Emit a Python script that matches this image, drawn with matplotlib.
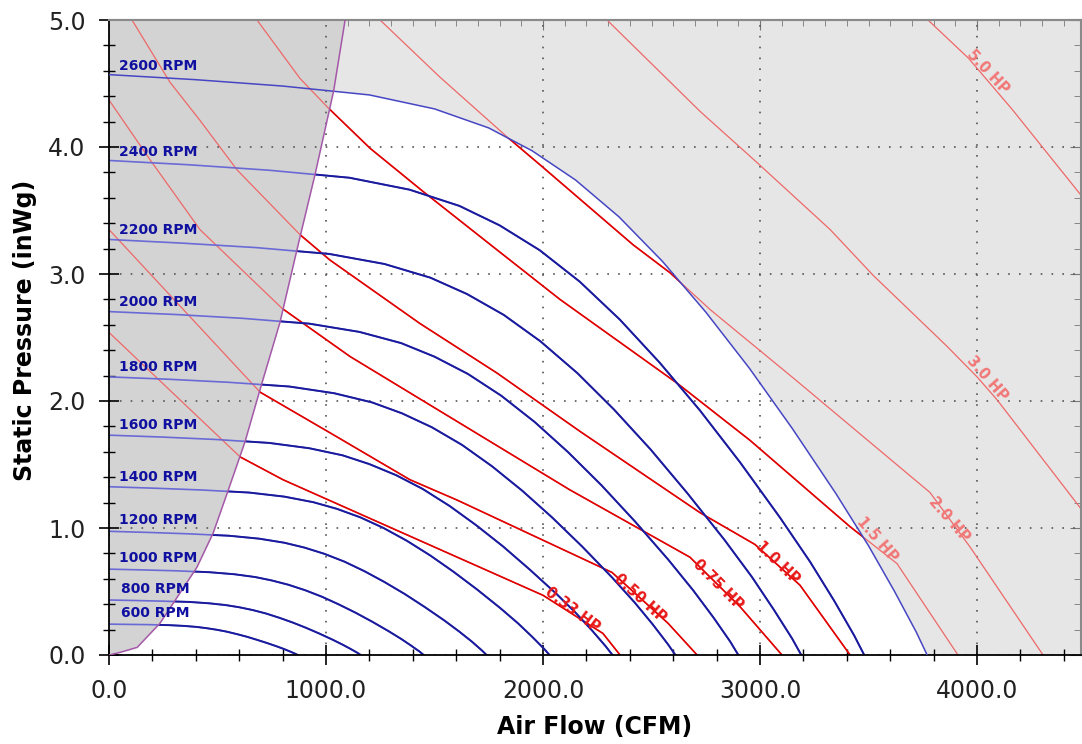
import numpy as np
import matplotlib.pyplot as plt
from matplotlib.patches import Polygon
from matplotlib.ticker import MultipleLocator, FormatStrFormatter, NullFormatter

# fan curves: air flow (CFM) / static pressure (inWg) per speed
fan_rpm = [600, 800, 1000, 1200, 1400, 1600, 1800, 2000, 2200, 2400, 2600]
fan_cfm = [
    [0, 92, 185, 277, 346, 404, 450, 496, 542, 588, 635, 681, 727, 773, 808, 835, 858, 870],
    [0, 123, 246, 369, 462, 538, 600, 662, 723, 785, 846, 908, 969, 1031, 1077, 1114, 1145, 1160],
    [0, 154, 308, 462, 577, 673, 750, 827, 904, 981, 1058, 1135, 1212, 1288, 1346, 1392, 1431, 1450],
    [0, 185, 369, 554, 692, 808, 900, 992, 1085, 1177, 1269, 1362, 1454, 1546, 1615, 1671, 1717, 1740],
    [0, 215, 431, 646, 808, 942, 1050, 1158, 1265, 1373, 1481, 1588, 1696, 1804, 1885, 1949, 2003, 2030],
    [0, 246, 492, 738, 923, 1077, 1200, 1323, 1446, 1569, 1692, 1815, 1938, 2062, 2154, 2228, 2289, 2320],
    [0, 277, 554, 831, 1038, 1212, 1350, 1488, 1627, 1765, 1904, 2042, 2181, 2319, 2423, 2506, 2575, 2610],
    [0, 308, 615, 923, 1154, 1346, 1500, 1654, 1808, 1962, 2115, 2269, 2423, 2577, 2692, 2785, 2862, 2900],
    [0, 338, 677, 1015, 1269, 1481, 1650, 1819, 1988, 2158, 2327, 2496, 2665, 2835, 2962, 3063, 3148, 3190],
    [0, 369, 738, 1108, 1385, 1615, 1800, 1985, 2169, 2354, 2538, 2723, 2908, 3092, 3231, 3342, 3434, 3480],
    [0, 400, 800, 1200, 1500, 1750, 1950, 2150, 2350, 2550, 2750, 2950, 3150, 3350, 3500, 3620, 3720, 3770],
]
fan_inwg = [
    [0.243, 0.241, 0.239, 0.235, 0.229, 0.221, 0.211, 0.199, 0.184, 0.165, 0.144, 0.120, 0.095, 0.068, 0.046, 0.027, 0.010, 0.0],
    [0.433, 0.429, 0.424, 0.418, 0.407, 0.393, 0.376, 0.354, 0.327, 0.293, 0.256, 0.214, 0.169, 0.120, 0.081, 0.047, 0.017, 0.0],
    [0.676, 0.670, 0.663, 0.652, 0.636, 0.614, 0.587, 0.553, 0.510, 0.459, 0.399, 0.334, 0.263, 0.188, 0.127, 0.074, 0.027, 0.0],
    [0.974, 0.965, 0.954, 0.939, 0.916, 0.884, 0.846, 0.797, 0.735, 0.660, 0.575, 0.481, 0.379, 0.271, 0.183, 0.107, 0.038, 0.0],
    [1.325, 1.313, 1.299, 1.279, 1.247, 1.203, 1.151, 1.084, 1.000, 0.899, 0.783, 0.655, 0.516, 0.368, 0.249, 0.145, 0.052, 0.0],
    [1.731, 1.716, 1.697, 1.670, 1.628, 1.572, 1.503, 1.416, 1.307, 1.174, 1.022, 0.856, 0.674, 0.481, 0.326, 0.189, 0.068, 0.0],
    [2.190, 2.171, 2.147, 2.114, 2.061, 1.989, 1.903, 1.793, 1.654, 1.486, 1.294, 1.083, 0.853, 0.609, 0.412, 0.240, 0.086, 0.0],
    [2.704, 2.681, 2.651, 2.609, 2.544, 2.456, 2.349, 2.213, 2.041, 1.834, 1.598, 1.337, 1.053, 0.751, 0.509, 0.296, 0.107, 0.0],
    [3.272, 3.243, 3.208, 3.158, 3.079, 2.971, 2.842, 2.678, 2.470, 2.220, 1.933, 1.618, 1.274, 0.909, 0.616, 0.358, 0.129, 0.0],
    [3.894, 3.860, 3.817, 3.758, 3.664, 3.536, 3.383, 3.187, 2.940, 2.641, 2.301, 1.926, 1.517, 1.082, 0.733, 0.426, 0.153, 0.0],
    [4.57, 4.53, 4.48, 4.41, 4.30, 4.15, 3.97, 3.74, 3.45, 3.10, 2.70, 2.26, 1.78, 1.27, 0.86, 0.50, 0.18, 0.0],
]

# stall (surge) boundary
surge_cfm = [0, 50, 130, 235, 405, 480, 550, 627, 696, 788, 866, 949, 1035, 1088]
surge_inwg = [0, 0.02, 0.06, 0.25, 0.69, 0.96, 1.30, 1.68, 2.09, 2.62, 3.19, 3.78, 4.44, 5.0]

# constant power lines
hp_labels = ['0.33 HP', '0.50 HP', '0.75 HP', '1.0 HP', '1.5 HP', '2.0 HP', '3.0 HP', '5.0 HP']
hp_cfm = [
    [0, 604, 802, 1065, 2000, 2276, 2355],
    [0, 696, 1018, 1387, 1604, 2318, 2576, 2710],
    [0, 189, 419, 797, 1111, 2124, 2677, 2908, 3101],
    [106, 281, 419, 590, 880, 1018, 1433, 1788, 2171, 2724, 2977, 3184, 3415],
    [682, 880, 1009, 1203, 1447, 1788, 2078, 2618, 2954, 3415, 3631, 3912],
    [1249, 1525, 1834, 1986, 2415, 2585, 2770, 3161, 3783, 3968, 4304],
    [2295, 2724, 2991, 3323, 3521, 3862, 4000, 4092, 4484],
    [3774, 3960, 4160, 4484],
]
hp_inwg = [
    [2.54, 1.56, 1.38, 1.18, 0.47, 0.17, 0.0],
    [3.35, 2.07, 1.75, 1.38, 1.22, 0.65, 0.25, 0.0],
    [4.37, 3.90, 3.35, 2.73, 2.35, 1.30, 0.77, 0.38, 0.0],
    [5.0, 4.51, 4.21, 3.82, 3.31, 3.11, 2.61, 2.22, 1.76, 1.12, 0.87, 0.55, 0.0],
    [5.0, 4.54, 4.31, 3.99, 3.65, 3.19, 2.80, 2.14, 1.69, 1.01, 0.72, 0.0],
    [5.0, 4.55, 4.08, 3.86, 3.23, 3.01, 2.72, 2.17, 1.28, 0.85, 0.0],
    [5.0, 4.28, 3.87, 3.35, 2.99, 2.43, 2.19, 2.01, 1.14],
    [5.0, 4.70, 4.30, 3.61],
]

# label placement (data coords) and text angle
rpm_label_xy = [(55, 0.33), (55, 0.52), (45, 0.76), (45, 1.06), (45, 1.40), (45, 1.81),
                (45, 2.27), (45, 2.78), (45, 3.35), (45, 3.96), (45, 4.64)]
hp_label_xy = [(2134, 0.354), (2447, 0.449), (2806, 0.551), (3083, 0.724),
               (3539, 0.906), (3871, 1.071), (4046, 2.181), (4051, 4.591)]
hp_label_rot = [-37, -42, -45, -44, -49, -49, -49, -47]

fig = plt.figure(figsize=(10.82, 7.44), dpi=100)
ax = fig.add_axes([109 / 1082, 89 / 744, 972 / 1082, 635 / 744])
ax.set_xlim(0, 4479)
ax.set_ylim(0, 5)
ax.set_facecolor('#e6e6e6')

# shaded zones: stall region (dark) and operating region (white)
ax.fill(surge_cfm + [0], surge_inwg + [5.0], color='#d3d3d3', lw=0, zorder=0.5)
white_pts = list(zip(surge_cfm[:-1], surge_inwg[:-1]))
white_pts += [(q, p) for q, p in zip(fan_cfm[-1], fan_inwg[-1]) if q > surge_cfm[-2]]
white = Polygon(white_pts, closed=True, facecolor='white', edgecolor='none', zorder=0.6)
ax.add_patch(white)

# power lines, faint outside the operating zone
for q, p in zip(hp_cfm, hp_inwg):
    ax.plot(q, p, color='#ee6868', lw=0.9, zorder=2)
    ln, = ax.plot(q, p, color='#e00000', lw=1.2, zorder=2.1)
    ln.set_clip_path(white)

# fan curves
for q, p in zip(fan_cfm[:-1], fan_inwg[:-1]):
    ax.plot(q, p, color='#6a6ad6', lw=1.2, zorder=2.2)
    ln, = ax.plot(q, p, color='#1a1a9c', lw=1.4, zorder=2.3)
    ln.set_clip_path(white)
ax.plot(fan_cfm[-1], fan_inwg[-1], color='#4646c4', lw=1.1, zorder=3)
ax.plot(surge_cfm, surge_inwg, color='#a458a8', lw=1.1, zorder=3)

for rpm, (x, y) in zip(fan_rpm, rpm_label_xy):
    ax.text(x, y, '{} RPM'.format(rpm), color='#1010a0', fontsize=10, fontweight='bold',
            ha='left', va='center', zorder=4)

for i, (lab, (x, y), rot) in enumerate(zip(hp_labels, hp_label_xy, hp_label_rot)):
    col = '#e81818' if i < 4 else '#f27676'
    ax.text(x, y, lab, color=col, fontsize=10.5, fontweight='bold', rotation=rot,
            rotation_mode='anchor', ha='center', va='center', zorder=4)

# axes styling
ax.xaxis.set_major_locator(MultipleLocator(1000))
ax.xaxis.set_minor_locator(MultipleLocator(200))
ax.yaxis.set_major_locator(MultipleLocator(1.0))
ax.yaxis.set_minor_locator(MultipleLocator(0.2))
ax.xaxis.set_major_formatter(FormatStrFormatter('%.1f'))
ax.yaxis.set_major_formatter(FormatStrFormatter('%.1f'))
ax.tick_params(which='major', direction='inout', length=14, width=1.2, labelsize=17,
               labelcolor='#222222', pad=10)
ax.tick_params(which='minor', direction='inout', length=8, width=1.0)
ax.grid(True, which='major', color='#555555', linestyle=(0, (1, 5.5)), linewidth=1.2)
for s in ['left', 'bottom']:
    ax.spines[s].set_linewidth(1.3)
for s in ['top', 'right']:
    ax.spines[s].set_color('#8a8a8a')
    ax.spines[s].set_linewidth(1.5)

secx = ax.secondary_xaxis('top')
secx.xaxis.set_major_locator(MultipleLocator(1000))
secx.xaxis.set_minor_locator(MultipleLocator(100))
secx.xaxis.set_major_formatter(NullFormatter())
secx.tick_params(which='major', direction='in', length=7, color='#777777')
secx.tick_params(which='minor', direction='in', length=4, color='#777777')
secx.spines['top'].set_color('#8a8a8a')
secx.spines['top'].set_linewidth(1.5)

secy = ax.secondary_yaxis('right')
secy.yaxis.set_major_locator(MultipleLocator(1.0))
secy.yaxis.set_minor_locator(MultipleLocator(0.2))
secy.yaxis.set_major_formatter(NullFormatter())
secy.tick_params(which='major', direction='in', length=8, color='#777777')
secy.tick_params(which='minor', direction='in', length=5, color='#777777')
secy.spines['right'].set_color('#8a8a8a')

ax.set_xlabel('Air Flow (CFM)', fontsize=17, fontweight='bold', va='center')
ax.xaxis.set_label_coords(0.5, -(727 - 655) / 635)
ax.set_ylabel('Static Pressure (inWg)', fontsize=17, fontweight='bold', va='center', ha='center')
ax.yaxis.set_label_coords(-(109 - 25) / 972, (655 - 330) / 635)

fig.savefig('out.png', dpi=100)
